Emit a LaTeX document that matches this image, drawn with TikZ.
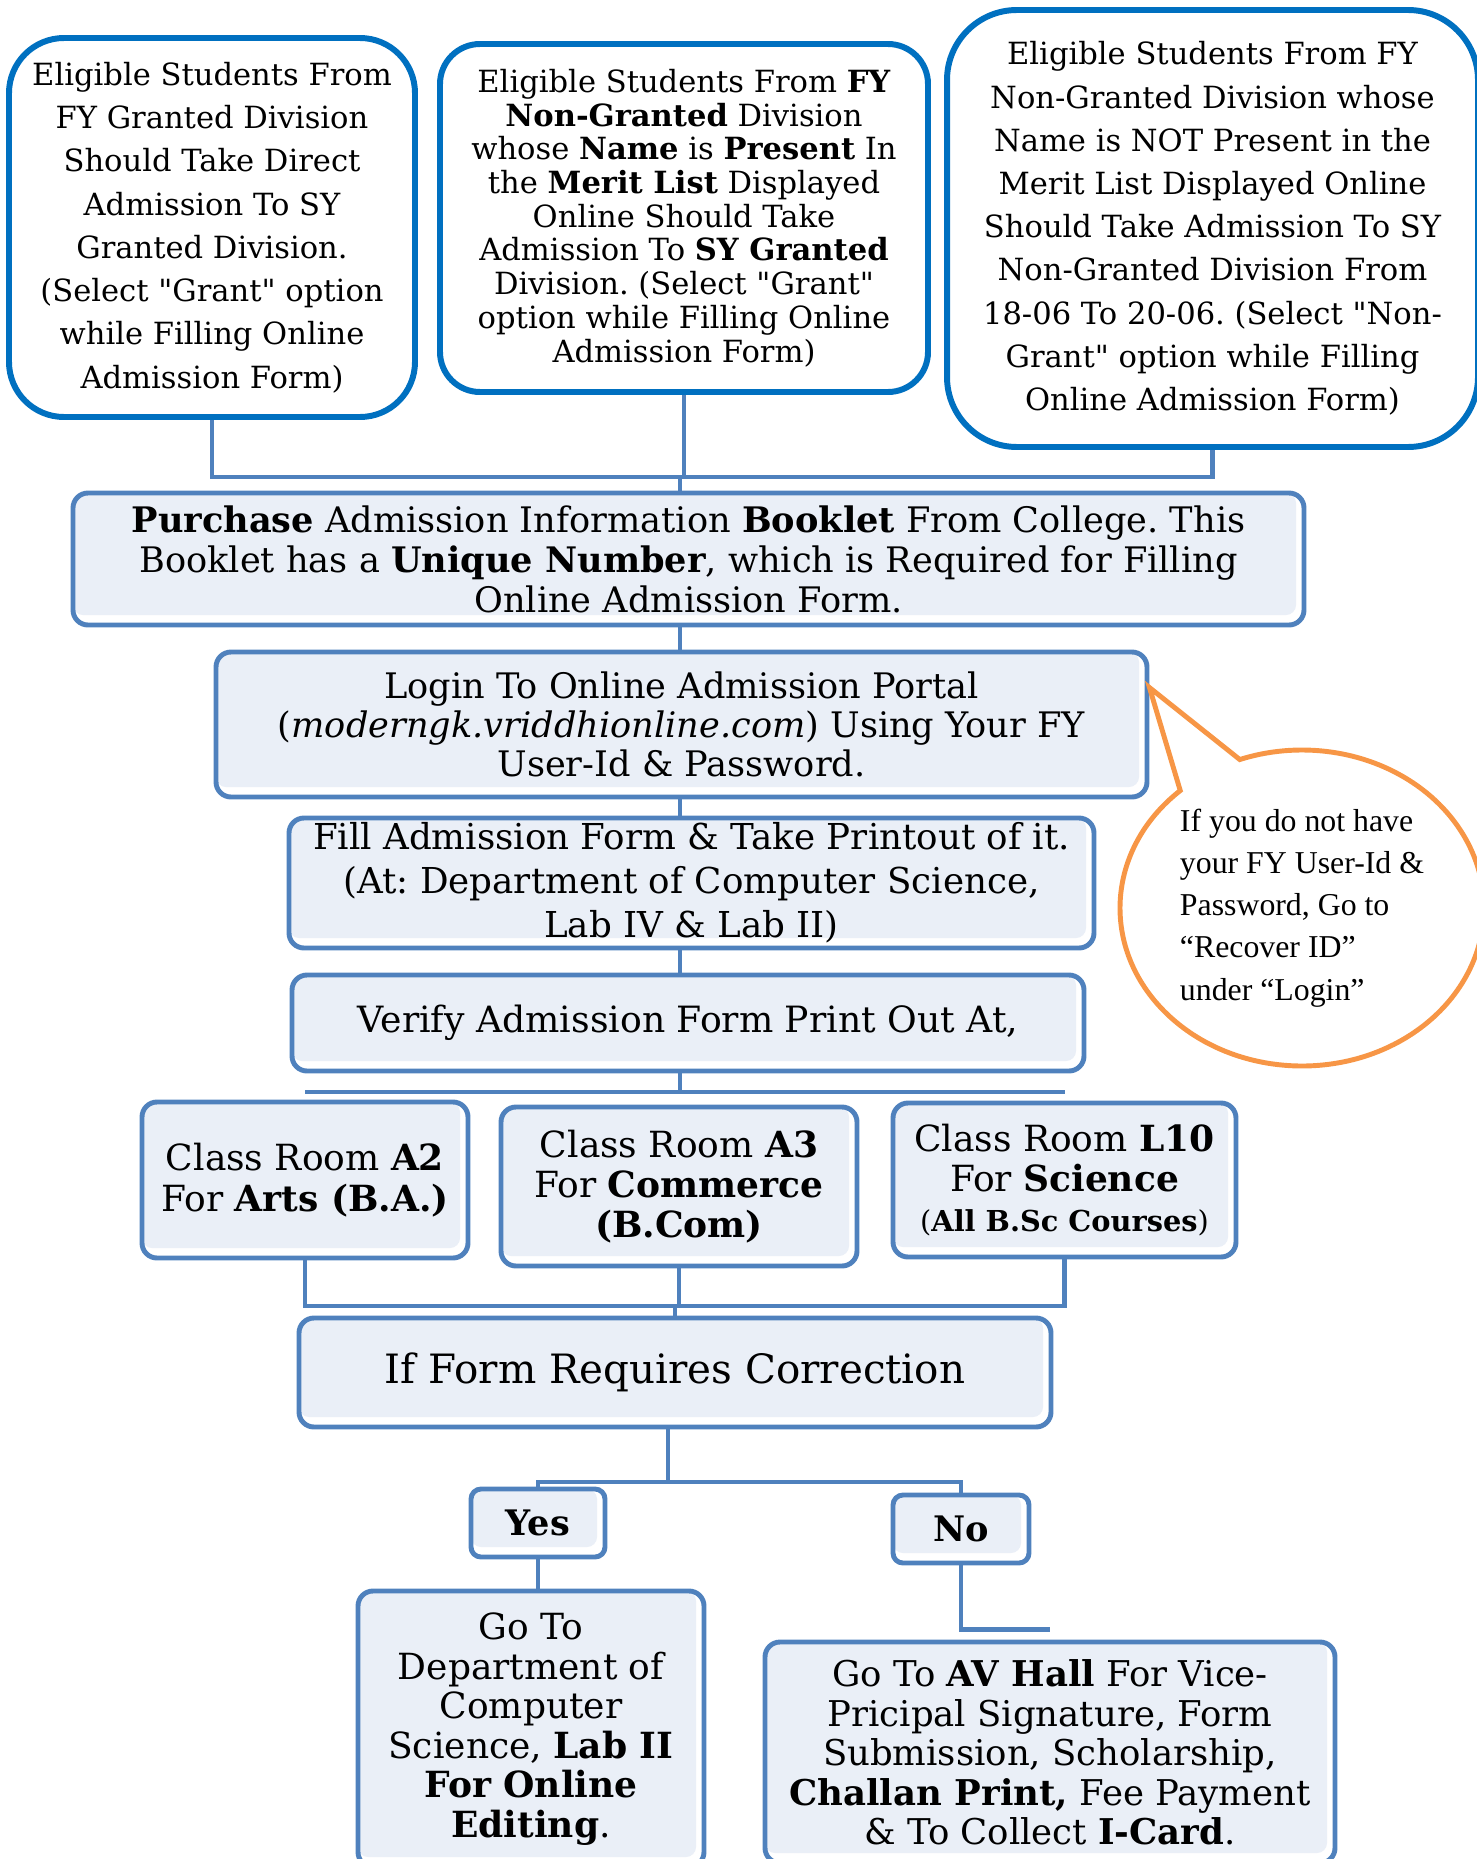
\documentclass[tikz,border=0pt]{standalone}
\usepackage{fontspec}
\setmainfont{DejaVu Serif}[Ligatures=TeXOff]
\newfontfamily\notefont{Liberation Serif}
\usepackage{tikz}
\usetikzlibrary{calc,shapes.callouts}
\definecolor{topline}{HTML}{0070C0}
\definecolor{boxline}{HTML}{4F81BD}
\definecolor{boxfill}{HTML}{EAEFF7}
\definecolor{noteline}{HTML}{F79646}
\tikzset{
  elig/.style={draw=topline, line width=3.4pt, fill=white, align=center, inner sep=0pt},
  stepbox/.style={draw=boxline, line width=2.8pt, fill=white, rounded corners=0.3cm,
    align=center, inner sep=0pt,
    path picture={\fill[boxfill, rounded corners=0.2cm] (path picture bounding box.north west)
      rectangle ([shift={(-0.16,0.2)}]path picture bounding box.south east);}},
  link/.style={draw=boxline, line width=2.8pt},
  note/.style={draw=noteline, line width=2.8pt, fill=white, align=left, inner sep=0pt,
    font=\notefont\fontsize{18.1}{24}\selectfont},
}
\frenchspacing

\begin{document}
\begin{tikzpicture}
\useasboundingbox (0,0) rectangle (29.54,-37.18);

% who takes admission where
\node[elig, rounded corners=1.1cm, minimum width=8.12cm, minimum height=7.58cm,
  font=\fontsize{17.4}{24.6}\selectfont] (elig1) at (4.24,-4.55)
  {Eligible Students From\\FY Granted Division\\Should Take Direct\\Admission To SY\\Granted Division.\\(Select "Grant" option\\while Filling Online\\Admission Form)};
\node[elig, rounded corners=0.8cm, minimum width=9.76cm, minimum height=6.96cm,
  font=\fontsize{17.4}{19.2}\selectfont] (elig2) at (13.68,-4.36)
  {Eligible Students From \textbf{FY}\\\textbf{Non-Granted} Division\\whose \textbf{Name} is \textbf{Present} In\\the \textbf{Merit List} Displayed\\Online Should Take\\Admission To \textbf{SY Granted}\\Division. (Select "Grant"\\option while Filling Online\\Admission Form)};
\node[elig, rounded corners=1.4cm, minimum width=10.62cm, minimum height=8.74cm,
  font=\fontsize{17.4}{24.6}\selectfont] (elig3) at (24.25,-4.57)
  {Eligible Students From FY\\Non-Granted Division whose\\Name is NOT Present in the\\Merit List Displayed Online\\Should Take Admission To SY\\Non-Granted Division From\\18-06 To 20-06. (Select "Non-\\Grant" option while Filling\\Online Admission Form)};

% steps
\node[stepbox, minimum width=24.62cm, minimum height=2.64cm,
  font=\fontsize{20}{22.8}\selectfont] (purch) at (13.77,-11.18)
  {\textbf{Purchase} Admission Information \textbf{Booklet} From College. This\\Booklet has a \textbf{Unique Number}, which is Required for Filling\\Online Admission Form.};
\node[stepbox, minimum width=18.62cm, minimum height=2.9cm,
  font=\fontsize{20}{22.2}\selectfont] (login) at (13.63,-14.49)
  {Login To Online Admission Portal\\(\textit{moderngk.vriddhionline.com}) Using Your FY\\User-Id \& Password.};
\node[stepbox, minimum width=16.1cm, minimum height=2.6cm,
  font=\fontsize{20.3}{25}\selectfont] (fill) at (13.83,-17.66)
  {Fill Admission Form \& Take Printout of it.\\(At: Department of Computer Science,\\Lab IV \& Lab II)};
\node[stepbox, minimum width=15.84cm, minimum height=1.92cm,
  font=\fontsize{20.6}{22}\selectfont] (verify) at (13.76,-20.46)
  {Verify Admission Form Print Out At,};

% class rooms
\node[stepbox, minimum width=6.52cm, minimum height=3.12cm,
  font=\fontsize{20.5}{23.3}\selectfont] (roomA) at (6.10,-23.60)
  {Class Room \textbf{A2}\\For \textbf{Arts (B.A.)}};
\node[stepbox, minimum width=7.12cm, minimum height=3.18cm,
  font=\fontsize{20.5}{22.8}\selectfont] (roomB) at (13.58,-23.73)
  {Class Room \textbf{A3}\\For \textbf{Commerce}\\\textbf{(B.Com)}};
\node[stepbox, minimum width=6.86cm, minimum height=3.08cm,
  font=\fontsize{20.5}{22.8}\selectfont] (roomC) at (21.29,-23.60)
  {Class Room \textbf{L10}\\For \textbf{Science}\\{\fontsize{16.4}{26}\selectfont(\textbf{All B.Sc Courses})}};

\node[stepbox, minimum width=15.04cm, minimum height=2.18cm,
  font=\fontsize{23}{26}\selectfont] (form) at (13.50,-27.45)
  {If Form Requires Correction};

\node[stepbox, rounded corners=0.2cm, minimum width=2.68cm, minimum height=1.36cm,
  font=\fontsize{20}{22}\selectfont] (yes) at (10.76,-30.46) {\textbf{Yes}};
\node[stepbox, rounded corners=0.2cm, minimum width=2.72cm, minimum height=1.36cm,
  font=\fontsize{20}{22}\selectfont] (no) at (19.22,-30.58) {\textbf{No}};

\node[stepbox, minimum width=6.92cm, minimum height=5.52cm,
  font=\fontsize{20.5}{22.5}\selectfont] (goto) at (10.62,-34.58)
  {Go To\\Department of\\Computer\\Science, \textbf{Lab II}\\\textbf{For Online}\\\textbf{Editing}.};
\node[stepbox, minimum width=11.40cm, minimum height=4.42cm,
  font=\fontsize{20.2}{22.5}\selectfont] (av) at (21.00,-35.05)
  {Go To \textbf{AV Hall} For Vice-\\Pricipal Signature, Form\\Submission, Scholarship,\\\textbf{Challan Print,} Fee Payment\\\& To Collect \textbf{I-Card}.};

% connectors
\coordinate (hub) at (13.6,-9.54);
\coordinate (spine) at (13.6,0);
\coordinate (fork) at (13.6,-21.84);
\coordinate (join) at (13.5,-26.12);
\coordinate (split) at (13.36,-29.64);
\draw[link] (elig1.south) |- (hub) -| (elig3.south);
\draw[link] (elig2.south) -- (elig2.south |- hub);
\draw[link] (hub) -- (hub |- purch.north);
\draw[link] (spine |- purch.south) -- (spine |- login.north);
\draw[link] (spine |- login.south) -- (spine |- fill.north);
\draw[link] (spine |- fill.south) -- (spine |- verify.north);
\draw[link] (spine |- verify.south) -- (fork);
\draw[link] (roomA.north |- fork) -- (roomC.north |- fork);
\draw[link] (roomA.south) |- (join) -| (roomC.south);
\draw[link] (roomB.south) -- (roomB.south |- join);
\draw[link] (join) -- (join |- form.north);
\draw[link] (form.south -| split) -- (split);
\draw[link] (yes.north) |- (split) -| (no.north);
\draw[link] (yes.south) -- (yes.south |- goto.north);
\draw[link] (no.south) |- ([yshift=0.2cm]av.north);

% hint bubble
\coordinate (tipL) at ([yshift=-0.76cm]login.north east);
\node[note, ellipse callout, callout absolute pointer=(tipL), callout pointer arc=22,
  minimum width=7.28cm, minimum height=6.32cm] (hint) at (26.04,-18.16)
  {If you do not have\\your FY User-Id \&\\Password, Go to\\“Recover ID”\\under “Login”};
\end{tikzpicture}
\end{document}
